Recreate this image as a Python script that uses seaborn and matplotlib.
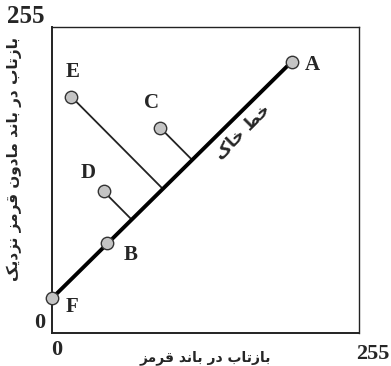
import numpy as np
import pandas as pd
import matplotlib
matplotlib.use("Agg")
import matplotlib.pyplot as plt
import seaborn as sns

# نقاط نمودار خط خاک (بازتاب قرمز / مادون قرمز نزدیک)
labels = ["A", "B", "C", "D", "E", "F"]
red = [199, 46, 90, 43, 16, 0]
nir = [226, 75, 171, 118, 197, 29]
off_points = ["C", "D", "E"]  # نقاطی که عمود بر خط خاک دارند

x_label = "بازتاب در باند قرمز"
y_label = "بازتاب در باند مادون قرمز نزدیک"
line_label = "خط خاک"
axis_max = 255

# شکل‌دهی ساده حروف فارسی (matplotlib اتصال حروف را انجام نمی‌دهد)
RIGHT_ONLY = set("اآدذرزژو")
FORMS = {  # iso, fin, ini, med
    "ا": ("\uFE8D", "\uFE8E", "\uFE8D", "\uFE8E"),
    "ب": ("\uFE8F", "\uFE90", "\uFE91", "\uFE92"),
    "ت": ("\uFE95", "\uFE96", "\uFE97", "\uFE98"),
    "خ": ("\uFEA5", "\uFEA6", "\uFEA7", "\uFEA8"),
    "د": ("\uFEA9", "\uFEAA", "\uFEA9", "\uFEAA"),
    "ر": ("\uFEAD", "\uFEAE", "\uFEAD", "\uFEAE"),
    "ز": ("\uFEAF", "\uFEB0", "\uFEAF", "\uFEB0"),
    "ط": ("\uFEC1", "\uFEC2", "\uFEC3", "\uFEC4"),
    "ق": ("\uFED5", "\uFED6", "\uFED7", "\uFED8"),
    "م": ("\uFEE1", "\uFEE2", "\uFEE3", "\uFEE4"),
    "ن": ("\uFEE5", "\uFEE6", "\uFEE7", "\uFEE8"),
    "و": ("\uFEED", "\uFEEE", "\uFEED", "\uFEEE"),
    "ی": ("\uFBFC", "\uFBFD", "\uFBFE", "\uFBFF"),
    "ک": ("\uFB8E", "\uFB8F", "\uFB90", "\uFB91"),
}


def fa(s):
    out = []
    for i, ch in enumerate(s):
        if ch not in FORMS:
            out.append(ch); continue
        prev = s[i - 1] if i > 0 else " "
        nxt = s[i + 1] if i + 1 < len(s) else " "
        jp = prev in FORMS and prev not in RIGHT_ONLY
        jn = nxt in FORMS and ch not in RIGHT_ONLY
        iso, fin, ini, med = FORMS[ch]
        out.append(med if jp and jn else fin if jp else ini if jn else iso)
    return "".join(reversed(out))


sns.set_style("white")
plt.rcParams["font.family"] = ["Liberation Serif", "DejaVu Sans"]

df = pd.DataFrame({"label": labels, "red": red, "nir": nir}).set_index("label")

fig = plt.figure(figsize=(3.91, 3.66), dpi=100)
ax = fig.add_axes([0.133, 0.090, 0.785, 0.836])
ax.set_xlim(0, axis_max); ax.set_ylim(0, axis_max)
ax.set_xticks([]); ax.set_yticks([])
for sp in ax.spines.values():
    sp.set_color("#222"); sp.set_linewidth(1.0)
ax.spines["left"].set_linewidth(1.4); ax.spines["bottom"].set_linewidth(1.4)

# خط خاک F -> A
p0 = df.loc["F"].values.astype(float); p1 = df.loc["A"].values.astype(float)
u = (p1 - p0) / np.linalg.norm(p1 - p0)
sns.lineplot(x=[p0[0], p1[0]], y=[p0[1], p1[1]], ax=ax, color="black", lw=2.8, sort=False, zorder=2)

# عمودها
for k in off_points:
    p = df.loc[k].values.astype(float)
    foot = p0 + np.dot(p - p0, u) * u
    ax.plot([p[0], foot[0]], [p[1], foot[1]], color="#222", lw=1.3, zorder=1)

sns.scatterplot(data=df.reset_index(), x="red", y="nir", ax=ax, s=80, color="#c4c4c4",
                edgecolor="#333", linewidth=1.0, zorder=3, clip_on=False, legend=False)
ax.set_xlabel(""); ax.set_ylabel("")

offs = {"A": (15, -2), "B": (16.5, -8.6), "C": (-6, 18), "D": (-11, 13), "E": (0.7, 18), "F": (14.4, -6.5)}
for k, (dx, dy) in offs.items():
    ax.annotate(k, (df.loc[k, "red"], df.loc[k, "nir"]), xytext=(dx, dy), textcoords="offset points",
                ha="center", va="center", fontsize=15, fontweight="bold", family="Liberation Serif")

num = dict(fontweight="bold", family="Liberation Serif", clip_on=False, ha="center", va="center")
ax.text(-0.085, 1.033, "255", transform=ax.transAxes, fontsize=18, **num)
ax.text(-0.039, 0.033, "0", transform=ax.transAxes, fontsize=16, **num)
ax.text(0.016, -0.055, "0", transform=ax.transAxes, fontsize=16, **num)
ax.text(1.046, -0.070, "255", transform=ax.transAxes, fontsize=16, **num)

ax.text(0.5, -0.055, fa(x_label), transform=ax.transAxes, ha="center", va="top",
        fontsize=10, fontweight="bold", family="DejaVu Sans")
fig.text(0.036, 0.565, fa(y_label), rotation=90, ha="center", va="center",
         fontsize=11, fontweight="bold", family="DejaVu Sans")
ax.text(158.6, 167.5, fa(line_label), rotation=45, ha="center", va="center",
        fontsize=12, fontweight="bold", family="DejaVu Sans", rotation_mode="anchor")

fig.savefig("out.png", dpi=100)
